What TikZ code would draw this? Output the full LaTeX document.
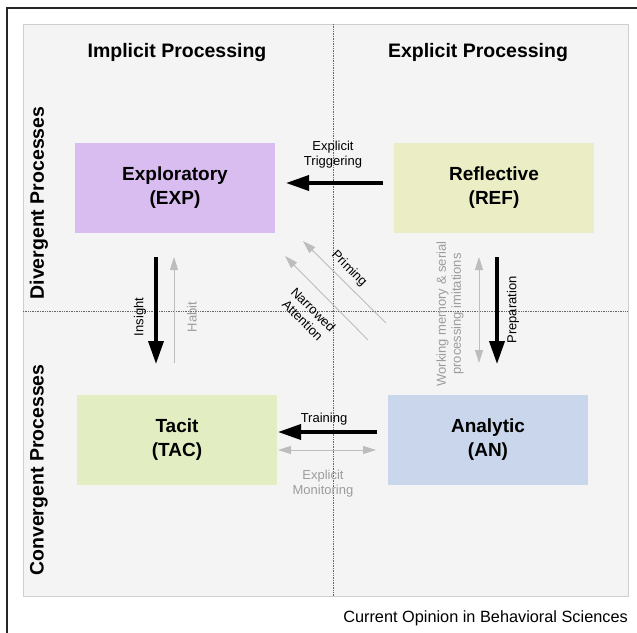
\documentclass[tikz,border=0pt]{standalone}
\usepackage{fontspec}
\setmainfont{Liberation Sans}
\usetikzlibrary{arrows.meta}

\definecolor{panelfill}{HTML}{F4F4F4}
\definecolor{panelline}{HTML}{CFCFCF}
\definecolor{expfill}{HTML}{DABDF0}
\definecolor{reffill}{HTML}{EBEEC5}
\definecolor{tacfill}{HTML}{E3EDC2}
\definecolor{anfill}{HTML}{C9D6EB}
\definecolor{softline}{HTML}{BDBDBD}
\definecolor{softtext}{HTML}{9C9C9C}

\tikzset{
  modebox/.style={minimum width=200pt, minimum height=90pt, inner sep=0pt,
    align=center, font=\fontsize{19}{24}\selectfont\bfseries},
  heading/.style={font=\fontsize{19.5}{23}\selectfont\bfseries, inner sep=0pt},
  smalllabel/.style={font=\fontsize{13}{15}\selectfont, align=center, inner sep=0pt},
  softlabel/.style={smalllabel, text=softtext},
  strongarrow/.style={line width=3.6pt, -{Triangle[length=23pt,width=15pt]}},
  softarrow/.style={draw=softline, line width=0.9pt, -{Triangle[length=13pt,width=8pt]}},
  softboth/.style={draw=softline, line width=0.9pt, {Triangle[length=13pt,width=8pt]}-{Triangle[length=13pt,width=8pt]}},
  gridline/.style={densely dotted, black!60, line width=0.7pt}
}

\begin{document}
\begin{tikzpicture}[x=1pt,y=-1pt]
\useasboundingbox (0,0) rectangle (637,632);
\fill[white] (0,0) rectangle (637,632);

% outer frame (only its left and top edges fall inside the page)
\draw[line width=2pt, black!85] (7,640) -- (7,8) -- (645,8);

% grey panel and quadrant guides
\draw[fill=panelfill, draw=panelline, line width=0.8pt] (23,24) rectangle (628,596);
\draw[gridline] (333,24) -- (333,596);
\draw[gridline] (23,311) -- (628,311);

% headings
\node[heading] (himp) at (177,52) {Implicit Processing};
\node[heading] (hexp) at (478,52) {Explicit Processing};
\node[heading, rotate=90] (hdiv) at (39,203) {Divergent Processes};
\node[heading, rotate=90] (hconv) at (39,470) {Convergent Processes};

% the four modes
\node[modebox, fill=expfill] (exp) at (175,188) {Exploratory\\(EXP)};
\node[modebox, fill=reffill] (ref) at (494,188) {Reflective\\(REF)};
\node[modebox, fill=tacfill] (tac) at (177,440) {Tacit\\(TAC)};
\node[modebox, fill=anfill] (an) at (488,440) {Analytic\\(AN)};

% arrow end points
\coordinate (trigS) at (383,183);
\coordinate (trigE) at (286,183);
\coordinate (trainS) at (377,432);
\coordinate (trainE) at (278,432);
\coordinate (monW) at (278,450);
\coordinate (monE) at (376,450);
\coordinate (insS) at (156,257);
\coordinate (insE) at (156,364);
\coordinate (habS) at (174,363);
\coordinate (habE) at (174,257);
\coordinate (prepS) at (497,257);
\coordinate (prepE) at (497,364);
\coordinate (wmT) at (479,257);
\coordinate (wmB) at (479,363);
\coordinate (primS) at (386,323);
\coordinate (primE) at (303,241);
\coordinate (narS) at (368,340);
\coordinate (narE) at (285,256);

% strong transitions
\draw[strongarrow] (trigS) -- (trigE);
\draw[strongarrow] (trainS) -- (trainE);
\draw[strongarrow] (insS) -- (insE);
\draw[strongarrow] (prepS) -- (prepE);

% soft transitions
\draw[softboth] (monW) -- (monE);
\draw[softarrow] (habS) -- (habE);
\draw[softboth] (wmT) -- (wmB);
\draw[softarrow] (primS) -- (primE);
\draw[softarrow] (narS) -- (narE);

% labels
\node[smalllabel] (ltrig) at (333,155) {Explicit\\Triggering};
\node[smalllabel] (ltrain) at (324,419) {Training};
\node[softlabel] (lmon) at (323,484) {Explicit\\Monitoring};
\node[smalllabel, rotate=90] (lins) at (140,317) {Insight};
\node[softlabel, rotate=90] (lhab) at (192,317) {Habit};
\node[smalllabel, rotate=90] (lprep) at (513,310) {Preparation};
\node[softlabel, rotate=90] (lwm) at (450,314) {Working memory \& serial\\processing imitations};
\node[smalllabel, rotate=-45] (lprim) at (349,269) {Priming};
\node[smalllabel, rotate=-45] (lnar) at (308,315) {Narrowed\\Attention};

% credit line
\node[font=\fontsize{16.3}{19}\selectfont, anchor=east, inner sep=0pt] (credit) at (628,618) {Current Opinion in Behavioral Sciences};
\end{tikzpicture}
\end{document}
